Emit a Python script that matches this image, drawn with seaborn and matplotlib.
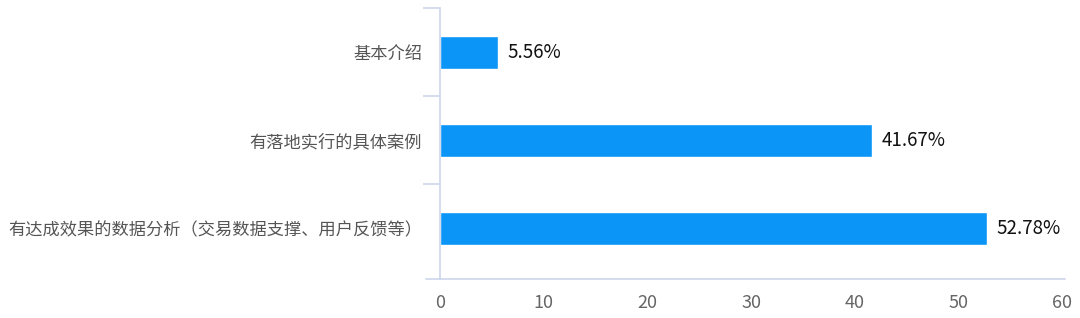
import matplotlib
matplotlib.use("Agg")
import matplotlib.pyplot as plt
import seaborn as sns
import pandas as pd
from matplotlib.lines import Line2D

categories = ["基本介绍", "有落地实行的具体案例", "有达成效果的数据分析（交易数据支撑、用户反馈等）"]
values = [5.56, 41.67, 52.78]
x_ticks = [0, 10, 20, 30, 40, 50, 60]

sns.set_theme(style="white")
plt.rcParams['font.family'] = ['Noto Sans CJK SC', 'DejaVu Sans']

df = pd.DataFrame({"category": categories, "value": values})

fig = plt.figure(figsize=(10.8, 3.18), dpi=100)
ax = fig.add_axes([440/1080, 1 - 279/318, (1062 - 440)/1080, (279 - 8)/318])

sns.barplot(data=df, y="category", x="value", orient="h", color="#0a95f7",
            saturation=1, width=0.375, ax=ax)

ax.set_xlim(0, 60)
ax.set_ylim(2.5 + 7/88, -0.5)
ax.set_xticks(x_ticks)
ax.set_xticklabels([str(t) for t in x_ticks])
ax.set_xlabel("")
ax.set_ylabel("")

axis_color = "#ccd6eb"
for s in ["top", "right"]:
    ax.spines[s].set_visible(False)
ax.spines["left"].set_color(axis_color)
ax.spines["left"].set_linewidth(1.2)
ax.spines["bottom"].set_visible(False)
# bottom axis line extending slightly left of the y axis
ax.add_line(Line2D([-14/622, 1.005], [0, 0], transform=ax.transAxes,
                   color=axis_color, linewidth=1.2, clip_on=False))

# category boundary ticks on the y axis
ax.set_yticks([-0.5, 0.5, 1.5], minor=True)
ax.tick_params(axis="y", which="minor", left=True, length=12, width=1.2,
               color=axis_color)
ax.tick_params(axis="y", which="major", left=False, pad=7,
               labelsize=12.4, labelcolor="#555555")
ax.tick_params(axis="x", which="major", bottom=False, pad=5,
               labelsize=13, labelcolor="#666666")

for c in ax.containers:
    ax.bar_label(c, labels=[f"{v:.2f}%" for v in values], padding=7,
                 fontsize=13.5, color="#111111")

fig.savefig("out.png", dpi=100)
